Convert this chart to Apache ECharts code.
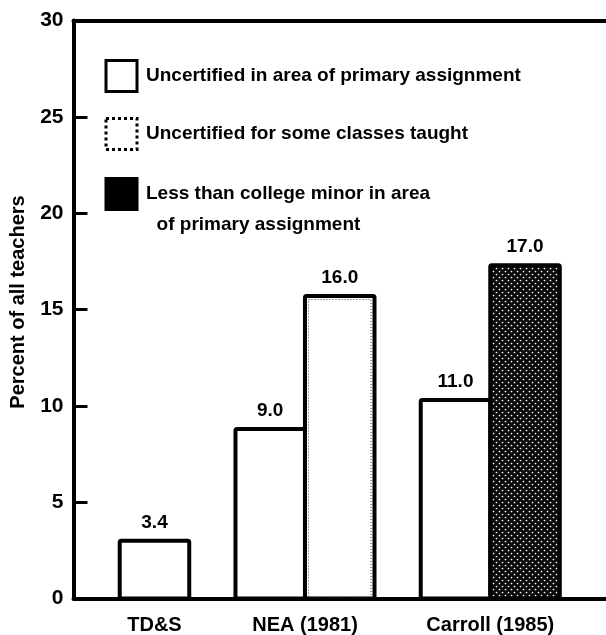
<!DOCTYPE html>
<html><head><meta charset="utf-8">
<script src="https://cdn.jsdelivr.net/npm/echarts@6/dist/echarts.min.js"></script>
<style>html,body{margin:0;padding:0;background:#fff}#c{width:606px;height:635px}</style>
</head><body><div id="c"></div><script>
// ---- data ----
const categories = ['TD&S', 'NEA (1981)', 'Carroll (1985)'];
const seriesNames = [
  'Uncertified in area of primary assignment',
  'Uncertified for some classes taught',
  'Less than college minor in area of primary assignment'
];
const lessMinorLegendLines = ['Less than college minor in area', '  of primary assignment'];
// bar heights as drawn in the figure
const uncertPrimary = [3.0, 8.8, 10.3];
const uncertSome = [null, 15.7, null];
const lessMinor = [null, null, 17.3];
// values printed above the bars
const uncertPrimaryLabels = ['3.4', '9.0', '11.0'];
const uncertSomeLabels = [null, '16.0', null];
const lessMinorLabels = [null, null, '17.0'];
const yTicks = [0, 5, 10, 15, 20, 25, 30];

// ---- layout helpers ----
const FONT = '"Liberation Sans", Arial, Helvetica, sans-serif';
const GAP = 0.665; // gap between groups, in bar widths
const seriesValues = [uncertPrimary, uncertSome, lessMinor];
const seriesLabels = [uncertPrimaryLabels, uncertSomeLabels, lessMinorLabels];
const counts = categories.map((c, i) => seriesValues.filter(s => s[i] != null).length);
const starts = [];
let acc = GAP;
counts.forEach(n => { starts.push(acc); acc += n + GAP; });
const xMax = acc;
const centers = categories.map((c, i) => starts[i] + counts[i] / 2);
function slotOf(si, gi) { let k = 0; for (let s = 0; s < si; s++) if (seriesValues[s][gi] != null) k++; return k; }

// dotted dark fill
const pc = document.createElement('canvas'); pc.width = 6; pc.height = 6;
const cx = pc.getContext('2d');
cx.fillStyle = '#0b0b0b'; cx.fillRect(0, 0, 6, 6);
cx.fillStyle = '#ffffff';
cx.beginPath(); cx.arc(1.5, 1.5, 0.85, 0, Math.PI * 2); cx.fill();
cx.beginPath(); cx.arc(4.5, 4.5, 0.85, 0, Math.PI * 2); cx.fill();

const barStyles = [
  { fill: '#fff', stroke: '#000', lineWidth: 4 },
  { fill: '#fff', stroke: '#000', lineWidth: 4 },
  { fill: { image: pc, repeat: 'repeat' }, stroke: '#000', lineWidth: 4 }
];

function makeRender(si) {
  return function (params, api) {
    const gi = api.value(0), v = api.value(1);
    const x0 = starts[gi] + slotOf(si, gi);
    const p0 = api.coord([x0, 0]);
    const p1 = api.coord([x0 + 1, v]);
    const children = [{
      type: 'rect',
      shape: { x: p0[0], y: p1[1], width: p1[0] - p0[0], height: p0[1] - p1[1], r: 1.5 },
      style: barStyles[si]
    }];
    if (si === 1) {
      children.push({
        type: 'rect',
        shape: { x: p0[0] + 3.5, y: p1[1] + 3.5, width: p1[0] - p0[0] - 7, height: p0[1] - p1[1] - 5 },
        style: { fill: 'none', stroke: '#444', lineWidth: 1, lineDash: [1, 2] }
      });
    }
    children.push({
      type: 'text',
      style: {
        text: seriesLabels[si][gi], x: (p0[0] + p1[0]) / 2, y: p1[1] - 18,
        align: 'center', verticalAlign: 'middle', fill: '#000',
        font: 'bold 19px ' + FONT
      }
    });
    return { type: 'group', children };
  };
}

const series = seriesValues.map((vals, si) => ({
  type: 'custom',
  name: seriesNames[si],
  xAxisIndex: 0, yAxisIndex: 0,
  renderItem: makeRender(si),
  encode: { x: 0, y: 1 },
  itemStyle: { color: si === 2 ? '#000' : '#fff', borderColor: '#000' },
  data: vals.map((v, gi) => v == null ? null : [gi, v]).filter(d => d)
}));

const legendCommon = {
  orient: 'vertical', left: 104.5, padding: 0,
  itemGap: 24, itemWidth: 31, itemHeight: 31, icon: 'rect', selectedMode: false
};
const legendText = { fontSize: 19, fontWeight: 'bold', color: '#000', fontFamily: FONT, padding: [0, 0, 0, 4] };

const axisLine = { show: true, onZero: false, lineStyle: { color: '#000', width: 4 } };
const chart = echarts.init(document.getElementById('c'), null, { renderer: 'canvas' });
chart.setOption({
  animation: false,
  backgroundColor: '#fff',
  grid: { left: 73.5, right: 0, top: 20.5, bottom: 36.5, containLabel: false, outerBoundsMode: 'none' },
  legend: [
    Object.assign({}, legendCommon, {
      top: 59,
      textStyle: legendText,
      data: [
        { name: seriesNames[0], itemStyle: { color: '#fff', borderColor: '#000', borderWidth: 3 } },
        { name: seriesNames[1], itemStyle: { color: '#fff', borderColor: '#000', borderWidth: 3, borderType: 'dotted' } }
      ]
    }),
    Object.assign({}, legendCommon, {
      top: 147.5,
      textStyle: Object.assign({}, legendText, { lineHeight: 31 }),
      formatter: () => '\n' + lessMinorLegendLines.join('\n'),
      data: [
        { name: seriesNames[2], itemStyle: { color: '#000', borderColor: '#000', borderWidth: 3 } }
      ]
    })
  ],
  xAxis: [
    {
      type: 'value', min: 0, max: xMax, position: 'bottom',
      axisLine: axisLine, axisTick: { show: false }, splitLine: { show: false },
      axisLabel: {
        customValues: centers, margin: 17, color: '#000', fontSize: 20, fontWeight: 'bold', fontFamily: FONT,
        formatter: val => { let b = 0; centers.forEach((c, i) => { if (Math.abs(c - val) < Math.abs(centers[b] - val)) b = i; }); return categories[b]; }
      }
    },
    {
      type: 'value', min: 0, max: xMax, position: 'top',
      axisLine: axisLine, axisTick: { show: false }, splitLine: { show: false }, axisLabel: { show: false }
    }
  ],
  yAxis: {
    type: 'value', min: yTicks[0], max: yTicks[yTicks.length - 1], interval: yTicks[1] - yTicks[0],
    axisLine: axisLine,
    axisTick: { show: true, inside: true, length: 14, lineStyle: { color: '#000', width: 3 } },
    splitLine: { show: false },
    axisLabel: { margin: 10, color: '#000', fontSize: 21, fontWeight: 'bold', fontFamily: FONT },
    name: 'Percent of all teachers', nameLocation: 'middle', nameRotate: 90, nameGap: 45,
    nameTextStyle: { color: '#000', fontSize: 20, fontWeight: 'bold', fontFamily: FONT, padding: [0, 0, 0, 15] }
  },
  series: series
});
</script></body></html>
